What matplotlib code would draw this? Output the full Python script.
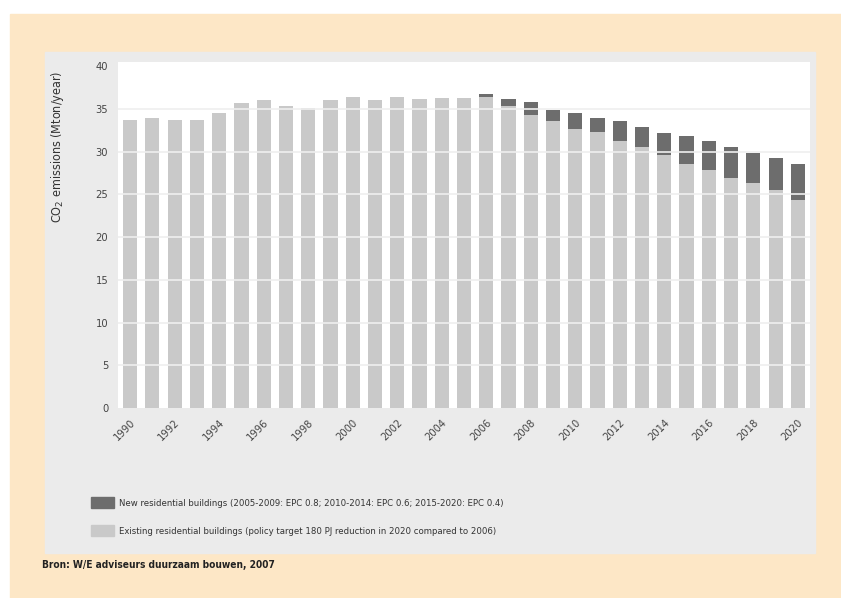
import matplotlib.pyplot as plt
from matplotlib.patches import Rectangle, Patch
from matplotlib.font_manager import FontProperties
import numpy as np

# CO2 emissions of Dutch housing stock, Mton/year
years = list(range(1990, 2021))
existing = [33.7, 33.9, 33.7, 33.7, 34.5, 35.7, 36.1, 35.4, 35.1, 36.1,
            36.4, 36.1, 36.4, 36.2, 36.3, 36.3, 36.4, 35.3, 34.3, 33.6,
            32.7, 32.3, 31.2, 30.5, 29.6, 28.6, 27.8, 26.9, 26.3, 25.5, 24.3]
new_build = [0, 0, 0, 0, 0, 0, 0, 0, 0, 0,
             0, 0, 0, 0, 0, 0, 0.3, 0.9, 1.5, 1.3,
             1.8, 1.7, 2.4, 2.4, 2.6, 3.2, 3.4, 3.6, 3.6, 3.8, 4.3]
yticks = [0, 5, 10, 15, 20, 25, 30, 35, 40]

label_new = "New residential buildings (2005-2009: EPC 0.8; 2010-2014: EPC 0.6; 2015-2020: EPC 0.4)"
label_old = "Existing residential buildings (policy target 180 PJ reduction in 2020 compared to 2006)"
source = "Bron: W/E adviseurs duurzaam bouwen, 2007"

W, H = 841, 598


def narrow(size, weight='normal'):
    return FontProperties(family='DejaVu Sans', stretch='condensed', size=size, weight=weight)


fig = plt.figure(figsize=(W / 100, H / 100), dpi=100)
fig.patch.set_facecolor('white')

# peach frame and grey panel behind the chart
fig.add_artist(Rectangle((10 / W, 0), 1 - 10 / W, (H - 14) / H,
                         transform=fig.transFigure, color='#fde7c6', zorder=-2))
fig.add_artist(Rectangle((45 / W, (H - 553) / H), 770 / W, (553 - 52) / H,
                         transform=fig.transFigure, color='#ebebeb', zorder=-1))

ax = fig.add_axes([118 / W, (H - 408) / H, (810 - 118) / W, (408 - 62) / H])
ax.set_zorder(1)
ax.set_facecolor('white')

x = np.arange(len(years))
ax.bar(x, existing, width=0.63, color='#c9c9c9', zorder=2)
ax.bar(x, new_build, bottom=existing, width=0.63, color='#6d6d6d', zorder=2)

for v in yticks[1:-1]:
    ax.axhline(v, color='#efefef', lw=1.2, zorder=3)

ax.set_xlim(-0.55, len(years) - 0.45)
ax.set_ylim(0, 40.5)
ax.set_yticks(yticks)
ax.set_yticklabels([str(v) for v in yticks], fontproperties=narrow(8), color='#444444')
ax.set_xticks(x[::2])
ax.set_xticklabels([str(y) for y in years[::2]], rotation=45, ha='right',
                   rotation_mode='anchor', fontproperties=narrow(8), color='#444444')
ax.tick_params(length=0, pad=7)
for s in ax.spines.values():
    s.set_visible(False)

fig.text(57 / W, (H - 147) / H, "CO$_2$ emissions (Mton/year)", rotation=90,
         ha='center', va='center', fontproperties=narrow(9), color='#333333')

handles = [Patch(color='#6d6d6d'), Patch(color='#c9c9c9')]
fig.legend(handles, [label_new, label_old], loc='upper left',
           bbox_to_anchor=(91 / W, (H - 497) / H), frameon=False,
           prop=narrow(6.8), labelcolor='#333333',
           handlelength=2.4, handleheight=1.4, handletextpad=0.6,
           labelspacing=1.85, borderpad=0, borderaxespad=0)

fig.text(42 / W, (H - 565) / H, source, ha='left', va='center',
         fontproperties=narrow(7.3, 'bold'), color='#222222')

fig.savefig('out.png', dpi=100)
